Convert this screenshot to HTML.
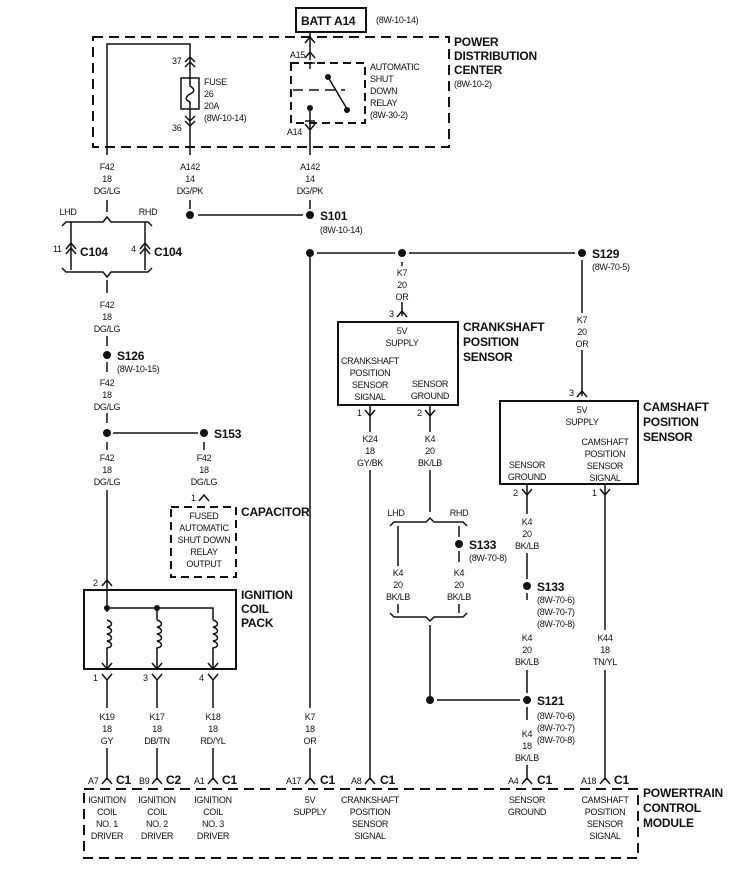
<!DOCTYPE html>
<html><head><meta charset="utf-8"><style>
html,body{margin:0;padding:0;background:#fff}
svg{display:block}
text{font-family:"Liberation Sans",sans-serif;font-size:9px;letter-spacing:-0.3px;fill:#111}
.b{font-weight:bold;font-size:12px;letter-spacing:-0.2px}
.c{text-anchor:middle}
</style></head><body>
<svg width="749" height="869" viewBox="0 0 749 869" xmlns="http://www.w3.org/2000/svg">
<g stroke="#111" stroke-width="1.5" fill="none">
<rect x="296" y="8" width="70" height="24" stroke-width="2"/>
<rect x="93" y="37" width="356" height="110" stroke-width="2" stroke-dasharray="10,6"/>
<polyline points="107,155 107,44 190,44 190,155"/>
<rect x="181" y="78" width="18" height="31" fill="#fff"/>
<path d="M190,78 v8 c5,3 5,6 0,8 c-5,3 -5,6 0,8 v7"/>
<polyline points="185,62 190,57 195,62"/><polyline points="185,67 190,62 195,67"/>
<polyline points="185,116 190,121 195,116"/><polyline points="185,121 190,126 195,121"/>
<line x1="310" y1="32" x2="310" y2="60"/>
<polyline points="305,43 310,37 315,43"/>
<polyline points="305,58 310,52 315,58"/>
<line x1="305" y1="63" x2="315" y2="63"/>
<rect x="291" y="63" width="74" height="60" stroke-dasharray="8,5" stroke-width="2"/>
<line x1="293" y1="90" x2="345" y2="90" stroke-dasharray="10,6"/>
<line x1="310" y1="63" x2="310" y2="69"/>
<line x1="328" y1="77" x2="347" y2="109"/>
<line x1="310" y1="108" x2="310" y2="155"/>
<line x1="305" y1="121" x2="315" y2="121"/>
<polyline points="305,124 310,130 315,124"/>
<line x1="190" y1="200" x2="190" y2="209"/>
<line x1="310" y1="200" x2="310" y2="209"/>
<line x1="198" y1="215" x2="303" y2="215"/>
<line x1="107" y1="200" x2="107" y2="212"/>
<path d="M62,226 l4,-4 H103 l4,-5 l4,5 H148 l4,4"/>
<line x1="71" y1="222" x2="71" y2="270"/>
<line x1="145" y1="222" x2="145" y2="270"/>
<polyline points="66,249 71,243 76,249"/><polyline points="66,254 71,248 76,254"/>
<polyline points="140,249 145,243 150,249"/><polyline points="140,254 145,248 150,254"/>
<path d="M62,268 l4,4 H103 l4,5 l4,-5 H148 l4,-4"/>
<line x1="107" y1="280" x2="107" y2="293"/>
<line x1="107" y1="336" x2="107" y2="346"/>
<line x1="107" y1="362" x2="107" y2="372"/>
<line x1="107" y1="413" x2="107" y2="423"/>
<line x1="113" y1="433" x2="198" y2="433"/>
<line x1="107" y1="442" x2="107" y2="450"/>
<line x1="204" y1="442" x2="204" y2="450"/>
<line x1="107" y1="490" x2="107" y2="612"/>
<polyline points="199,501 204,495 209,501"/>
<polyline points="102,586 107,580 112,586"/>
<rect x="171" y="507" width="65" height="70" stroke-dasharray="8,5" stroke-width="2"/>
<rect x="84" y="590" width="152" height="79" stroke-width="2"/>
<polyline points="107,608 213,608 213,620"/>
<line x1="157" y1="608" x2="157" y2="620"/>
<path d="M107,620 c6,2 6,6 0,7 c6,2 6,6 0,7 c6,2 6,6 0,7 c6,2 6,6 0,7 V669"/>
<path d="M157,620 c6,2 6,6 0,7 c6,2 6,6 0,7 c6,2 6,6 0,7 c6,2 6,6 0,7 V669"/>
<path d="M213,620 c6,2 6,6 0,7 c6,2 6,6 0,7 c6,2 6,6 0,7 c6,2 6,6 0,7 V669"/>
<polyline points="102,663 107,669 112,663"/><polyline points="152,663 157,669 162,663"/><polyline points="208,663 213,669 218,663"/>
<polyline points="102,674 107,680 112,674"/><polyline points="152,674 157,680 162,674"/><polyline points="208,674 213,680 218,674"/>
<line x1="107" y1="680" x2="107" y2="708"/><line x1="157" y1="680" x2="157" y2="708"/><line x1="213" y1="680" x2="213" y2="708"/>
<line x1="107" y1="748" x2="107" y2="780"/><line x1="157" y1="748" x2="157" y2="780"/><line x1="213" y1="748" x2="213" y2="780"/>
<line x1="310" y1="253" x2="310" y2="708"/>
<line x1="310" y1="748" x2="310" y2="780"/>
<line x1="317" y1="253" x2="395" y2="253"/>
<line x1="409" y1="253" x2="575" y2="253"/>
<line x1="402" y1="262" x2="402" y2="266"/>
<line x1="402" y1="302" x2="402" y2="316"/>
<polyline points="397,317 402,311 407,317"/>
<line x1="582" y1="260" x2="582" y2="313"/>
<line x1="582" y1="350" x2="582" y2="396"/>
<polyline points="577,397 582,391 587,397"/>
<rect x="338" y="322" width="120" height="83" stroke-width="2"/>
<polyline points="365,410 370,416 375,410"/><polyline points="425,410 430,416 435,410"/>
<line x1="370" y1="405" x2="370" y2="432"/><line x1="430" y1="405" x2="430" y2="432"/>
<line x1="370" y1="470" x2="370" y2="780"/>
<line x1="430" y1="470" x2="430" y2="512"/>
<path d="M390,526 l4,-4 H426 l4,-4 l4,4 H463 l4,4"/>
<line x1="398" y1="526" x2="398" y2="566"/>
<line x1="459" y1="526" x2="459" y2="537"/>
<line x1="459" y1="551" x2="459" y2="562"/>
<line x1="398" y1="604" x2="398" y2="613"/>
<line x1="459" y1="604" x2="459" y2="613"/>
<path d="M390,613 l4,4 H426 l4,4 l4,-4 H463 l4,-4"/>
<line x1="430" y1="625" x2="430" y2="700"/>
<line x1="437" y1="700" x2="520" y2="700"/>
<rect x="500" y="401" width="138" height="83" stroke-width="2"/>
<polyline points="522,489 527,495 532,489"/><polyline points="600,489 605,495 610,489"/>
<line x1="527" y1="484" x2="527" y2="514"/>
<line x1="527" y1="553" x2="527" y2="579"/>
<line x1="527" y1="593" x2="527" y2="600"/>
<line x1="527" y1="670" x2="527" y2="693"/>
<line x1="527" y1="707" x2="527" y2="720"/>
<line x1="527" y1="765" x2="527" y2="780"/>
<line x1="605" y1="484" x2="605" y2="630"/>
<line x1="605" y1="670" x2="605" y2="780"/>
<polyline points="102,784 107,778 112,784"/><polyline points="152,784 157,778 162,784"/><polyline points="208,784 213,778 218,784"/>
<polyline points="305,784 310,778 315,784"/><polyline points="365,784 370,778 375,784"/><polyline points="522,784 527,778 532,784"/><polyline points="600,784 605,778 610,784"/>
<rect x="84" y="789" width="554" height="69" stroke-width="2" stroke-dasharray="10,6"/>
</g>
<g fill="#111">
<circle cx="328" cy="77" r="3"/><circle cx="347" cy="110" r="3"/><circle cx="310" cy="108" r="3"/>
<circle cx="190" cy="215" r="4"/><circle cx="310" cy="215" r="4"/>
<circle cx="107" cy="355" r="4"/><circle cx="107" cy="433" r="4"/><circle cx="204" cy="433" r="4"/>
<circle cx="107" cy="608" r="3"/><circle cx="157" cy="608" r="3"/>
<circle cx="310" cy="253" r="4"/><circle cx="402" cy="253" r="4"/><circle cx="582" cy="253" r="4"/>
<circle cx="459" cy="544" r="4"/><circle cx="527" cy="586" r="4"/>
<circle cx="430" cy="700" r="4"/><circle cx="527" cy="700" r="4"/>
</g>
<text x="301" y="25" class="b">BATT A14</text>
<text x="376" y="23" font-size="8.5">(8W-10-14)</text>
<text x="454" y="46" class="b">POWER</text><text x="454" y="60" class="b">DISTRIBUTION</text><text x="454" y="74" class="b">CENTER</text>
<text x="454" y="87">(8W-10-2)</text>
<text x="172" y="64">37</text><text x="172" y="131">36</text>
<text x="204" y="85">FUSE</text><text x="204" y="97">26</text><text x="204" y="109">20A</text><text x="204" y="121">(8W-10-14)</text>
<text x="305" y="58" text-anchor="end">A15</text><text x="302" y="135" text-anchor="end">A14</text>
<text x="370" y="70">AUTOMATIC</text><text x="370" y="82">SHUT</text><text x="370" y="94">DOWN</text><text x="370" y="106">RELAY</text><text x="370" y="118">(8W-30-2)</text>
<text x="107" y="170" class="c">F42</text><text x="107" y="182" class="c">18</text><text x="107" y="194" class="c">DG/LG</text>
<text x="190" y="170" class="c">A142</text><text x="190" y="182" class="c">14</text><text x="190" y="194" class="c">DG/PK</text>
<text x="310" y="170" class="c">A142</text><text x="310" y="182" class="c">14</text><text x="310" y="194" class="c">DG/PK</text>
<text x="320" y="220" class="b">S101</text><text x="320" y="233" font-size="8.5">(8W-10-14)</text>
<text x="68" y="215" class="c">LHD</text><text x="148" y="215" class="c">RHD</text>
<text x="53" y="252">11</text><text x="80" y="256" class="b">C104</text>
<text x="131" y="252">4</text><text x="154" y="256" class="b">C104</text>
<text x="107" y="308" class="c">F42</text><text x="107" y="320" class="c">18</text><text x="107" y="332" class="c">DG/LG</text>
<text x="117" y="360" class="b">S126</text><text x="117" y="372" font-size="8.5">(8W-10-15)</text>
<text x="107" y="386" class="c">F42</text><text x="107" y="398" class="c">18</text><text x="107" y="410" class="c">DG/LG</text>
<text x="214" y="438" class="b">S153</text>
<text x="107" y="461" class="c">F42</text><text x="107" y="473" class="c">18</text><text x="107" y="485" class="c">DG/LG</text>
<text x="204" y="461" class="c">F42</text><text x="204" y="473" class="c">18</text><text x="204" y="485" class="c">DG/LG</text>
<text x="191" y="501">1</text>
<text x="241" y="516" class="b">CAPACITOR</text>
<text x="204" y="519" class="c">FUSED</text><text x="204" y="531" class="c">AUTOMATIC</text><text x="204" y="543" class="c">SHUT DOWN</text><text x="204" y="555" class="c">RELAY</text><text x="204" y="567" class="c">OUTPUT</text>
<text x="93" y="586">2</text>
<text x="241" y="599" class="b">IGNITION</text><text x="241" y="613" class="b">COIL</text><text x="241" y="627" class="b">PACK</text>
<text x="93" y="681">1</text><text x="143" y="681">3</text><text x="199" y="681">4</text>
<text x="107" y="720" class="c">K19</text><text x="107" y="732" class="c">18</text><text x="107" y="744" class="c">GY</text>
<text x="157" y="720" class="c">K17</text><text x="157" y="732" class="c">18</text><text x="157" y="744" class="c">DB/TN</text>
<text x="213" y="720" class="c">K18</text><text x="213" y="732" class="c">18</text><text x="213" y="744" class="c">RD/YL</text>
<text x="310" y="720" class="c">K7</text><text x="310" y="732" class="c">18</text><text x="310" y="744" class="c">OR</text>
<text x="592" y="258" class="b">S129</text><text x="592" y="270" font-size="8.5">(8W-70-5)</text>
<text x="402" y="276" class="c">K7</text><text x="402" y="288" class="c">20</text><text x="402" y="300" class="c">OR</text>
<text x="389" y="317">3</text>
<text x="402" y="334" class="c">5V</text><text x="402" y="346" class="c">SUPPLY</text>
<text x="370" y="364" class="c">CRANKSHAFT</text><text x="370" y="376" class="c">POSITION</text><text x="370" y="388" class="c">SENSOR</text><text x="370" y="400" class="c">SIGNAL</text>
<text x="430" y="387" class="c">SENSOR</text><text x="430" y="399" class="c">GROUND</text>
<text x="463" y="331" class="b">CRANKSHAFT</text><text x="463" y="346" class="b">POSITION</text><text x="463" y="361" class="b">SENSOR</text>
<text x="357" y="416">1</text><text x="417" y="416">2</text>
<text x="370" y="442" class="c">K24</text><text x="370" y="454" class="c">18</text><text x="370" y="466" class="c">GY/BK</text>
<text x="430" y="442" class="c">K4</text><text x="430" y="454" class="c">20</text><text x="430" y="466" class="c">BK/LB</text>
<text x="396" y="516" class="c">LHD</text><text x="459" y="516" class="c">RHD</text>
<text x="469" y="549" class="b">S133</text><text x="469" y="561" font-size="8.5">(8W-70-8)</text>
<text x="398" y="576" class="c">K4</text><text x="398" y="588" class="c">20</text><text x="398" y="600" class="c">BK/LB</text>
<text x="459" y="576" class="c">K4</text><text x="459" y="588" class="c">20</text><text x="459" y="600" class="c">BK/LB</text>
<text x="582" y="323" class="c">K7</text><text x="582" y="335" class="c">20</text><text x="582" y="347" class="c">OR</text>
<text x="569" y="396">3</text>
<text x="582" y="413" class="c">5V</text><text x="582" y="425" class="c">SUPPLY</text>
<text x="605" y="445" class="c">CAMSHAFT</text><text x="605" y="457" class="c">POSITION</text><text x="605" y="469" class="c">SENSOR</text><text x="605" y="481" class="c">SIGNAL</text>
<text x="527" y="468" class="c">SENSOR</text><text x="527" y="480" class="c">GROUND</text>
<text x="643" y="411" class="b">CAMSHAFT</text><text x="643" y="426" class="b">POSITION</text><text x="643" y="441" class="b">SENSOR</text>
<text x="513" y="496">2</text><text x="592" y="496">1</text>
<text x="527" y="525" class="c">K4</text><text x="527" y="537" class="c">20</text><text x="527" y="549" class="c">BK/LB</text>
<text x="537" y="591" class="b">S133</text><text x="537" y="603" font-size="8.5">(8W-70-6)</text><text x="537" y="615" font-size="8.5">(8W-70-7)</text><text x="537" y="627" font-size="8.5">(8W-70-8)</text>
<text x="527" y="641" class="c">K4</text><text x="527" y="653" class="c">20</text><text x="527" y="665" class="c">BK/LB</text>
<text x="605" y="641" class="c">K44</text><text x="605" y="653" class="c">18</text><text x="605" y="665" class="c">TN/YL</text>
<text x="537" y="705" class="b">S121</text><text x="537" y="719" font-size="8.5">(8W-70-6)</text><text x="537" y="731" font-size="8.5">(8W-70-7)</text><text x="537" y="743" font-size="8.5">(8W-70-8)</text>
<text x="527" y="737" class="c">K4</text><text x="527" y="749" class="c">18</text><text x="527" y="761" class="c">BK/LB</text>
<text x="88" y="784" font-size="8.5">A7</text><text x="139" y="784" font-size="8.5">B9</text><text x="194" y="784" font-size="8.5">A1</text>
<text x="286" y="784" font-size="8.5">A17</text><text x="351" y="784" font-size="8.5">A8</text><text x="508" y="784" font-size="8.5">A4</text><text x="581" y="784" font-size="8.5">A18</text>
<text x="116" y="784" class="b">C1</text><text x="166" y="784" class="b">C2</text><text x="222" y="784" class="b">C1</text>
<text x="320" y="784" class="b">C1</text><text x="380" y="784" class="b">C1</text><text x="537" y="784" class="b">C1</text><text x="614" y="784" class="b">C1</text>
<text x="107" y="803" class="c">IGNITION</text><text x="107" y="815" class="c">COIL</text><text x="107" y="827" class="c">NO. 1</text><text x="107" y="839" class="c">DRIVER</text>
<text x="157" y="803" class="c">IGNITION</text><text x="157" y="815" class="c">COIL</text><text x="157" y="827" class="c">NO. 2</text><text x="157" y="839" class="c">DRIVER</text>
<text x="213" y="803" class="c">IGNITION</text><text x="213" y="815" class="c">COIL</text><text x="213" y="827" class="c">NO. 3</text><text x="213" y="839" class="c">DRIVER</text>
<text x="310" y="803" class="c">5V</text><text x="310" y="815" class="c">SUPPLY</text>
<text x="370" y="803" class="c">CRANKSHAFT</text><text x="370" y="815" class="c">POSITION</text><text x="370" y="827" class="c">SENSOR</text><text x="370" y="839" class="c">SIGNAL</text>
<text x="527" y="803" class="c">SENSOR</text><text x="527" y="815" class="c">GROUND</text>
<text x="605" y="803" class="c">CAMSHAFT</text><text x="605" y="815" class="c">POSITION</text><text x="605" y="827" class="c">SENSOR</text><text x="605" y="839" class="c">SIGNAL</text>
<text x="643" y="797" class="b">POWERTRAIN</text><text x="643" y="812" class="b">CONTROL</text><text x="643" y="827" class="b">MODULE</text>
</svg>
</body></html>
